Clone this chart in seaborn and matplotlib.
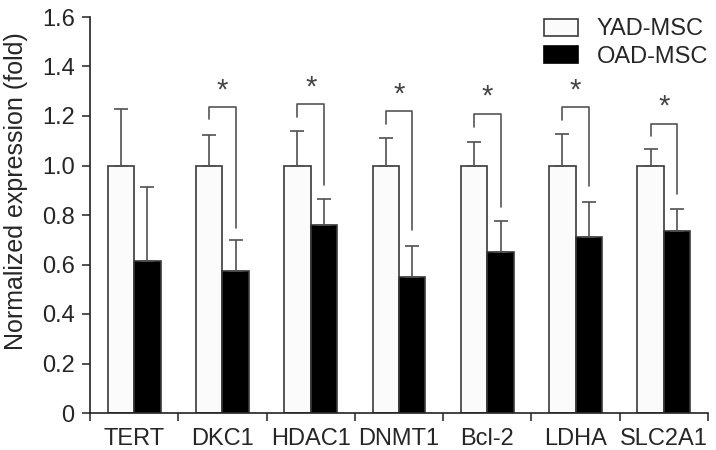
import numpy as np
import pandas as pd
import seaborn as sns
import matplotlib.pyplot as plt
from matplotlib.patches import Patch

# Data
genes = ['TERT', 'DKC1', 'HDAC1', 'DNMT1', 'Bcl-2', 'LDHA', 'SLC2A1']
yad_mean = [1.0, 1.0, 1.0, 1.0, 1.0, 1.0, 1.0]
yad_err = [0.228, 0.123, 0.139, 0.11, 0.095, 0.127, 0.067]
oad_mean = [0.615, 0.575, 0.76, 0.548, 0.65, 0.711, 0.735]
oad_err = [0.30, 0.124, 0.105, 0.128, 0.125, 0.142, 0.089]

# significance brackets (None = no bracket)
br_top = [None, 1.236, 1.248, 1.22, 1.208, 1.236, 1.168]
br_left = [None, 1.188, 1.196, 1.168, 1.156, 1.184, 1.119]
br_right = [None, 0.747, 0.921, 0.739, 0.832, 0.917, 0.885]

df = pd.DataFrame({
    'gene': genes * 2,
    'group': ['YAD-MSC'] * len(genes) + ['OAD-MSC'] * len(genes),
    'value': yad_mean + oad_mean,
})

sns.set_style('ticks')
plt.rcParams['font.family'] = ['Liberation Sans', 'DejaVu Sans']

fig = plt.figure(figsize=(7.16, 4.5), dpi=100)
ax = fig.add_axes([90 / 716, 37 / 450, 618 / 716, 396 / 450])

sns.barplot(data=df, x='gene', y='value', hue='group', order=genes,
            hue_order=['YAD-MSC', 'OAD-MSC'],
            palette={'YAD-MSC': '#fbfbfb', 'OAD-MSC': '#000000'},
            width=0.6, gap=0, errorbar=None, edgecolor='#3a3a3a',
            linewidth=1.2, legend=False, ax=ax)

x = np.arange(len(genes))
off = 0.15
ecol = '#505050'
ax.errorbar(x - off, yad_mean, yerr=[np.zeros(len(genes)), yad_err], fmt='none',
            ecolor=ecol, elinewidth=1.2, capsize=4.7, capthick=1.2, zorder=1)
ax.errorbar(x + off, oad_mean, yerr=[np.zeros(len(genes)), oad_err], fmt='none',
            ecolor=ecol, elinewidth=1.2, capsize=4.7, capthick=1.2, zorder=1)

for i in range(len(genes)):
    if br_top[i] is None:
        continue
    ax.plot([x[i] - off, x[i] - off, x[i] + off, x[i] + off],
            [br_left[i], br_top[i], br_top[i], br_right[i]],
            color='#555555', lw=1.2, zorder=3)
    ax.text(x[i], br_top[i] + 0.012, '*', ha='center', va='bottom',
            fontsize=21, color='#444444')

ax.set_xlim(-0.5, len(genes) - 0.5)
ax.set_ylim(0, 1.6)
ax.set_yticks(np.arange(0, 1.61, 0.2))
ax.set_yticklabels(['0'] + [f'{v:.1f}' for v in np.arange(0.2, 1.61, 0.2)])
ax.set_xticks(np.arange(-0.5, len(genes), 1.0))
ax.set_xticklabels([])
ax.set_xticks(x, minor=True)
ax.set_xticklabels(genes, minor=True)
ax.tick_params(axis='x', which='minor', length=0, pad=11, labelsize=17)
ax.tick_params(axis='x', which='major', length=6, width=1.2, color='#333333')
ax.tick_params(axis='y', length=6, width=1.2, labelsize=17, color='#333333', pad=5)
sns.despine(ax=ax)
for s in ['left', 'bottom']:
    ax.spines[s].set_linewidth(1.2)
    ax.spines[s].set_color('#222222')

ax.set_xlabel('')
ax.set_ylabel('Normalized expression (fold)', fontsize=18)
ax.yaxis.set_label_coords(-0.1, 0.56)

handles = [Patch(facecolor='#fbfbfb', edgecolor='#3a3a3a', linewidth=1.2, label='YAD-MSC'),
           Patch(facecolor='#000000', edgecolor='#000000', linewidth=1.2, label='OAD-MSC')]
ax.legend(handles=handles, loc='upper left', bbox_to_anchor=(0.7, 1.05),
          frameon=False, fontsize=17, handlelength=1.45, handleheight=0.75,
          handletextpad=0.8, labelspacing=0.22)

fig.savefig('out.png', dpi=100)
